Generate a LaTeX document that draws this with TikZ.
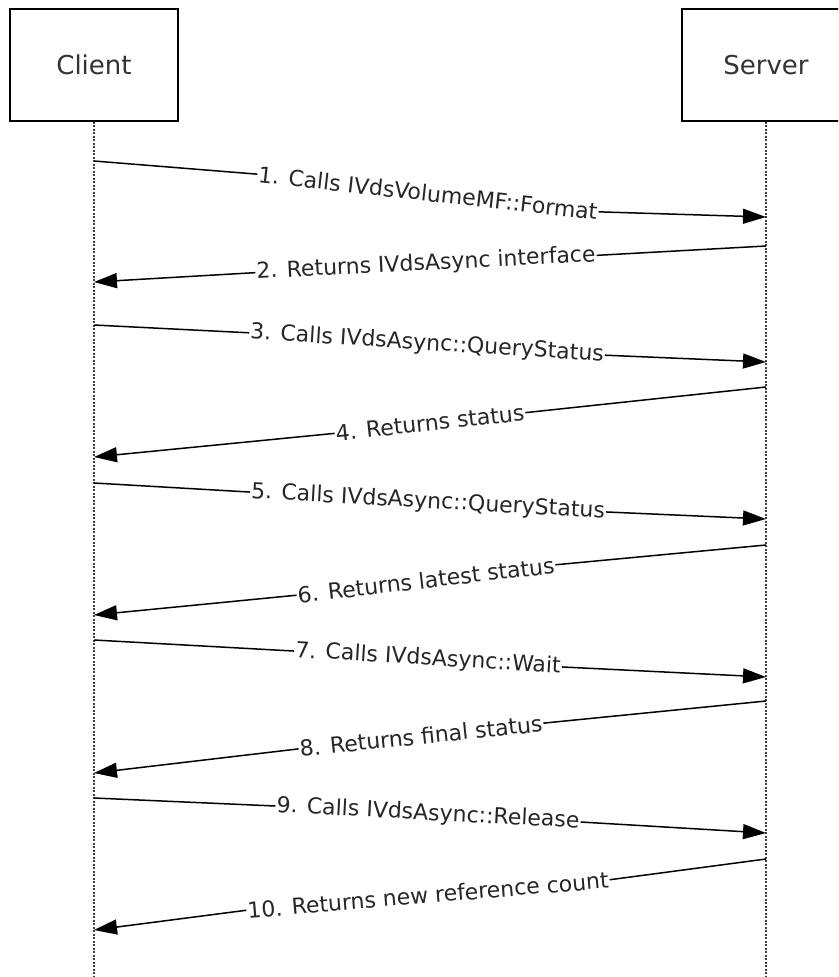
\documentclass[tikz,border=0pt]{standalone}
\usepackage{fontspec}
\setmainfont{DejaVu Sans}
\usetikzlibrary{arrows.meta}

\tikzset{
  actor/.style={draw, line width=1.6pt, minimum width=168pt, minimum height=112pt,
    font=\fontsize{26}{30}\selectfont, text=black!80},
  lifeline/.style={line width=1.4pt, dash pattern=on 2pt off 1.5pt, black!75},
  msgline/.style={line width=1.5pt},
  msgarrow/.style={line width=1.5pt, -{Triangle[length=23pt,width=15pt]}},
  msglabel/.style={inner sep=1pt, font=\fontsize{22}{26}\selectfont, text=black!85},
}

\begin{document}
\begin{tikzpicture}[x=1pt,y=-1pt]
			%%%%% START %%%%%
			
			\useasboundingbox (0,0) rectangle (838,977);
			\fill[white] (0,0) rectangle (838,977);
			\clip (0,0) rectangle (838,977);
			
			\node[actor] (client) at (94,65) {Client};
			\node[actor] (server) at (766,65) {Server};
			\coordinate (clientend) at (94,977);
			\coordinate (serverend) at (766,977);
			\draw[lifeline] (client.south) -- (clientend);
			\draw[lifeline] (server.south) -- (serverend);
			
			% points on the lifelines
			\coordinate (c1) at (94,161);   \coordinate (s1) at (766,217);
			\coordinate (s2) at (766,246);  \coordinate (c2) at (94,282);
			\coordinate (c3) at (94,325);   \coordinate (s3) at (766,362);
			\coordinate (s4) at (766,387);  \coordinate (c4) at (94,457);
			\coordinate (c5) at (94,483);   \coordinate (s5) at (766,519);
			\coordinate (s6) at (766,545);  \coordinate (c6) at (94,615);
			\coordinate (c7) at (94,640);   \coordinate (s7) at (766,677);
			\coordinate (s8) at (766,701);  \coordinate (c8) at (94,773);
			\coordinate (c9) at (94,798);   \coordinate (s9) at (766,833);
			\coordinate (s10) at (766,859); \coordinate (c10) at (94,930);
			
			\node[msglabel, rotate=-6.3] (m1) at (428,193) {1. Calls IVdsVolumeMF::Format};
			\draw[msgline] (c1) -- (m1.west);
			\draw[msgarrow] (m1.east) -- (s1);
			
			\node[msglabel, rotate=2.9] (m2) at (426,264) {2. Returns IVdsAsync interface};
			\draw[msgline] (s2) -- (m2.east);
			\draw[msgarrow] (m2.west) -- (c2);
			
			\node[msglabel, rotate=-3.6] (m3) at (427,344) {3. Calls IVdsAsync::QueryStatus};
			\draw[msgline] (c3) -- (m3.west);
			\draw[msgarrow] (m3.east) -- (s3);
			
			\node[msglabel, rotate=6.2] (m4) at (430,423) {4. Returns status};
			\draw[msgline] (s4) -- (m4.east);
			\draw[msgarrow] (m4.west) -- (c4);
			
			\node[msglabel, rotate=-3.2] (m5) at (428,502) {5. Calls IVdsAsync::QueryStatus};
			\draw[msgline] (c5) -- (m5.west);
			\draw[msgarrow] (m5.east) -- (s5);
			
			\node[msglabel, rotate=6.7] (m6) at (426,580) {6. Returns latest status};
			\draw[msgline] (s6) -- (m6.east);
			\draw[msgarrow] (m6.west) -- (c6);
			
			\node[msglabel, rotate=-3.4] (m7) at (428,659) {7. Calls IVdsAsync::Wait};
			\draw[msgline] (c7) -- (m7.west);
			\draw[msgarrow] (m7.east) -- (s7);
			
			\node[msglabel, rotate=6] (m8) at (421,736) {8. Returns final status};
			\draw[msgline] (s8) -- (m8.east);
			\draw[msgarrow] (m8.west) -- (c8);
			
			\node[msglabel, rotate=-3] (m9) at (428,814) {9. Calls IVdsAsync::Release};
			\draw[msgline] (c9) -- (m9.west);
			\draw[msgarrow] (m9.east) -- (s9);
			
			\node[msglabel, rotate=4.8] (m10) at (428,895) {10. Returns new reference count};
			\draw[msgline] (s10) -- (m10.east);
			\draw[msgarrow] (m10.west) -- (c10);
			
			%%%%% END %%%%%
\end{tikzpicture}
\end{document}
